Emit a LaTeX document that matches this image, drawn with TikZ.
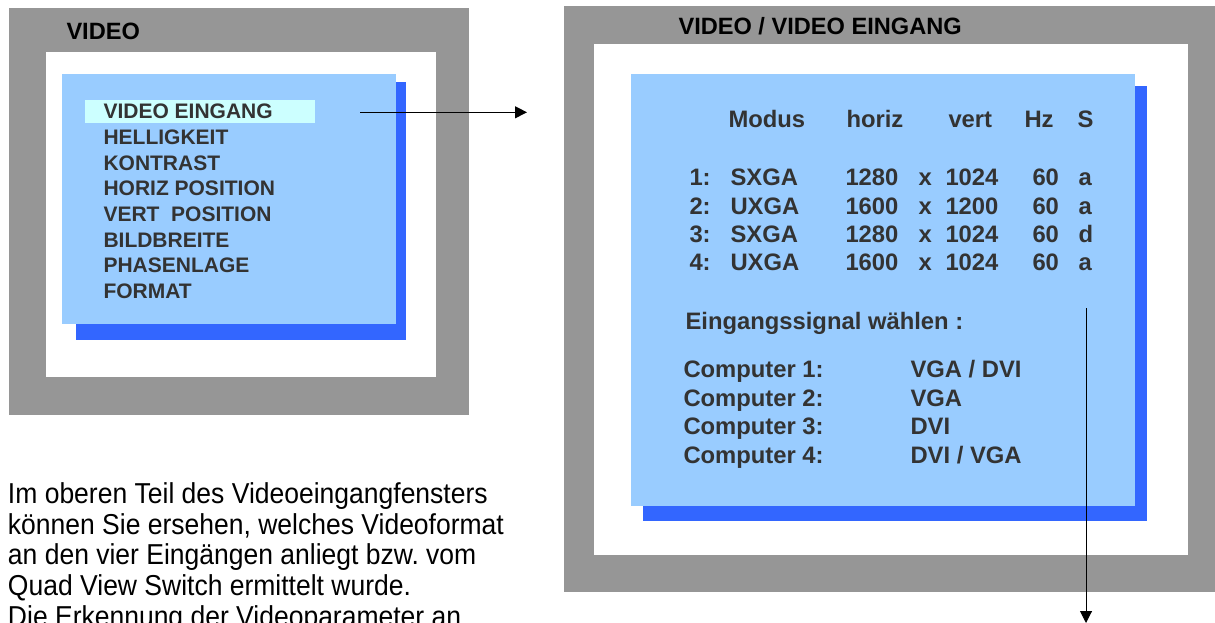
\documentclass[tikz,border=0pt]{standalone}
\usepackage{fontspec}
\setmainfont{Liberation Sans}
\newfontfamily\bodyfont[FakeStretch=0.92]{Liberation Sans}
\usetikzlibrary{arrows.meta}
\definecolor{winGray}{RGB}{150,150,150}
\definecolor{menuBlue}{RGB}{153,204,255}
\definecolor{shadowBlue}{RGB}{51,102,255}
\definecolor{selCyan}{RGB}{204,255,255}
\definecolor{txtGray}{RGB}{51,51,51}
\frenchspacing

\begin{document}
\begin{tikzpicture}[x=1pt,y=-1pt,line width=1pt,>=Triangle,
  menu/.style={anchor=base west,inner sep=0pt,text=txtGray,font=\bfseries\fontsize{21}{25}\selectfont},
  cell/.style={anchor=base west,inner sep=0pt,text=txtGray,font=\bfseries\fontsize{23.8}{28}\selectfont},
  wtitle/.style={anchor=base west,inner sep=0pt,font=\bfseries\fontsize{23.6}{28}\selectfont},
  body/.style={anchor=base west,inner sep=0pt,font=\bodyfont\fontsize{28.8}{31}\selectfont},
  link/.style={->,line width=1pt,>={Triangle[length=12pt,width=12pt]}}]
\useasboundingbox (0,0) rectangle (1215,623);
% ---------- left window: VIDEO ----------
\fill[winGray] (9,8) rectangle (469,415);
\fill[white] (46,52) rectangle (436,377);
\fill[shadowBlue] (76,82) rectangle (406,340);
\fill[menuBlue] (62,74) rectangle (396,324);
\fill[selCyan] (85,100) rectangle (315,123);
\node[wtitle] (vTitle) at (66,40) {VIDEO};
\foreach \item [count=\i] in {VIDEO EINGANG,HELLIGKEIT,KONTRAST,HORIZ POSITION,VERT\ \ POSITION,BILDBREITE,PHASENLAGE,FORMAT}
  \node[menu] (m\i) at (103,{119+25.6*(\i-1)}) {\item};
% ---------- right window: VIDEO / VIDEO EINGANG ----------
\fill[winGray] (564,6) rectangle (1215,592);
\fill[white] (594,44) rectangle (1188,555);
\fill[shadowBlue] (643,86) rectangle (1147,521);
\fill[menuBlue] (631,74) rectangle (1135,506);
\node[wtitle] (eTitle) at (678,35) {VIDEO / VIDEO EINGANG};
\node[cell] (hMod) at (728,128) {Modus};
\node[cell] (hHor) at (846,128) {horiz};
\node[cell] (hVer) at (948,128) {vert};
\node[cell] (hHz) at (1024,128) {Hz};
\node[cell] (hS) at (1077,128) {S};
\foreach \idx/\fmt/\hres/\vres/\sflag [count=\r] in {1/SXGA/1280/1024/a,2/UXGA/1600/1200/a,3/SXGA/1280/1024/d,4/UXGA/1600/1024/a}{
  \pgfmathsetmacro{\yb}{185.7+28.4*(\r-1)}
  \node[cell] (num\r) at (689,\yb) {\idx:};
  \node[cell] (mode\r) at (730,\yb) {\fmt};
  \node[cell] (hor\r) at (845,\yb) {\hres};
  \node[cell] (by\r) at (918,\yb) {x};
  \node[cell] (ver\r) at (945,\yb) {\vres};
  \node[cell] (hz\r) at (1032,\yb) {60};
  \node[cell] (sig\r) at (1078,\yb) {\sflag};
}
\node[cell] (sel) at (685,329.3) {Eingangssignal wählen :};
\foreach \src [count=\c] in {VGA / DVI,VGA,DVI,DVI / VGA}{
  \node[cell] (pc\c) at (683,{377.3+28.7*(\c-1)}) {Computer \c:};
  \node[cell] (src\c) at (910,{377.3+28.7*(\c-1)}) {\src};
}
% ---------- description ----------
\foreach \lineTxt [count=\k] in {Im oberen Teil des Videoeingangfensters,{können Sie ersehen, welches Videoformat},an den vier Eingängen anliegt bzw. vom,Quad View Switch ermittelt wurde.,Die Erkennung der Videoparameter an}
  \node[body] (txt\k) at (7.5,{503.3+30.7*(\k-1)}) {\lineTxt};
% ---------- arrows ----------
\coordinate (selOut) at (360,112.3);
\coordinate (winIn) at (527,112.3);
\draw[link] (selOut) -- (winIn);
\coordinate (sigTop) at (1086,308);
\coordinate (sigBot) at (1086,623);
\draw[link] (sigTop) -- (sigBot);
\end{tikzpicture}
\end{document}
